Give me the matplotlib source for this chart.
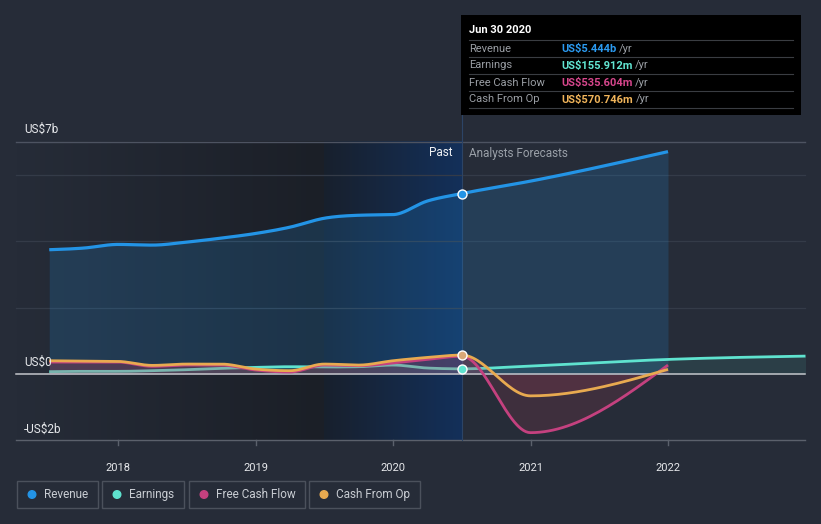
import numpy as np
import matplotlib
matplotlib.use('Agg')
import matplotlib.pyplot as plt
from matplotlib.patches import Rectangle, Circle
from matplotlib.colors import LinearSegmentedColormap

plt.rcParams['font.family'] = ['Roboto', 'DejaVu Sans']

# data, US$ billions
past_t = [2017.5, 2017.75, 2018.0, 2018.25, 2018.5, 2018.75, 2019.0,
          2019.25, 2019.5, 2019.75, 2020.0, 2020.25, 2020.5]
revenue_past = [3.75, 3.80, 3.91, 3.89, 3.98, 4.10, 4.24, 4.43, 4.70, 4.79, 4.81, 5.22, 5.444]
earnings_past = [0.07, 0.08, 0.08, 0.10, 0.13, 0.17, 0.20, 0.22, 0.21, 0.22, 0.27, 0.18, 0.156]
fcf_past = [0.36, 0.36, 0.36, 0.23, 0.27, 0.27, 0.12, 0.06, 0.27, 0.25, 0.33, 0.44, 0.536]
cfo_past = [0.40, 0.39, 0.38, 0.26, 0.30, 0.30, 0.15, 0.10, 0.30, 0.27, 0.40, 0.50, 0.571]

fc_t = [2021.0, 2022.0]
revenue_fc = [5.82, 6.71]
fcf_fc = [-1.77, 0.27]
cfo_fc = [-0.66, 0.14]
earnings_fc_t = [2021.0, 2022.0, 2023.0]
earnings_fc = [0.24, 0.44, 0.54]

years = [2018, 2019, 2020, 2021, 2022]

C_REV = '#2394e6'
C_EARN = '#5fe3cf'
C_FCF = '#c4417f'
C_CFO = '#e8aa50'
BG = '#262c38'


def monotone(x, y, n=30):
    # d3 curveMonotoneX style smoothing
    x = np.asarray(x, float)
    y = np.asarray(y, float)
    h = np.diff(x)
    s = np.diff(y) / h
    m = np.zeros(len(x))
    for k in range(1, len(x) - 1):
        p = (s[k - 1] * h[k] + s[k] * h[k - 1]) / (h[k - 1] + h[k])
        m[k] = (np.sign(s[k - 1]) + np.sign(s[k])) * min(abs(s[k - 1]), abs(s[k]), 0.5 * abs(p))
    m[0] = (3 * s[0] - m[1]) / 2 if len(x) > 2 else s[0]
    m[-1] = (3 * s[-1] - m[-2]) / 2 if len(x) > 2 else s[-1]
    xs, ys = [], []
    for k in range(len(x) - 1):
        t = np.linspace(0, 1, n, endpoint=False)
        h00 = 2 * t**3 - 3 * t**2 + 1
        h10 = t**3 - 2 * t**2 + t
        h01 = -2 * t**3 + 3 * t**2
        h11 = t**3 - t**2
        xs.append(x[k] + t * h[k])
        ys.append(h00 * y[k] + h10 * h[k] * m[k] + h01 * y[k + 1] + h11 * h[k] * m[k + 1])
    xs.append([x[-1]])
    ys.append([y[-1]])
    return np.concatenate(xs), np.concatenate(ys)


# pixel <-> data mapping
def X(px):
    return 2018 + (px - 118) / 137.5


def V(py):
    return (374 - py) / 33.14


fig = plt.figure(figsize=(8.21, 5.24), dpi=100, facecolor=BG)
ax = fig.add_axes([0, 0, 1, 1])
ax.set_facecolor(BG)
ax.set_xlim(X(0), X(821))
ax.set_ylim(V(524), V(0))
ax.axis('off')

top, bot = 7.0, -2.0

# background shading for past
g = np.linspace(0, 1, 256).reshape(1, -1)
cm1 = LinearSegmentedColormap.from_list('p1', [BG, '#1b1f27'])
ax.imshow(g, cmap=cm1, extent=[X(16), 2019.5, bot, top], aspect='auto', zorder=0)
cm2 = LinearSegmentedColormap.from_list('p2', ['#18202d', '#13305a'])
ax.imshow(g, cmap=cm2, extent=[2019.5, 2020.5, bot, top], aspect='auto', zorder=0)

# grid
for v in [2, 4, 6]:
    ax.plot([X(16), X(805)], [v, v], color='#343b48', lw=0.9, zorder=1)
ax.plot([X(16), X(805)], [7, 7], color='#4d5361', lw=1.0, zorder=1)
ax.plot([X(16), X(805)], [bot, bot], color='#5b616c', lw=1.0, zorder=1)
for yr in years:
    ax.plot([yr, yr], [bot, V(445)], color='#5b616c', lw=1.0, zorder=1)
ax.plot([2020.5, 2020.5], [bot, V(115)], color='#2c4466', lw=0.8, zorder=1)

rx, ry = monotone(past_t + fc_t, revenue_past + revenue_fc)
ex, ey = monotone(past_t + earnings_fc_t, earnings_past + earnings_fc)
fx, fy = monotone(past_t + fc_t, fcf_past + fcf_fc)
cx, cy = monotone(past_t + fc_t, cfo_past + cfo_fc)

ax.fill_between(rx, 0, ry, color=C_REV, alpha=0.18, lw=0, zorder=2)
ax.fill_between(ex, 0, ey, color=C_EARN, alpha=0.10, lw=0, zorder=2)
ax.plot(ex, ey, color=C_EARN, lw=2.0, zorder=2.5, solid_capstyle='butt')
ax.fill_between(fx, 0, fy, color='#c0405a', alpha=0.16, lw=0, zorder=3)
ax.fill_between(cx, 0, cy, color='#c0405a', alpha=0.14, lw=0, zorder=3)
ax.plot([X(16), X(805)], [0, 0], color='#c4c6cb', lw=1.1, zorder=3.5)

ax.plot(rx, ry, color=C_REV, lw=2.3, zorder=4, solid_capstyle='butt')
ax.plot(fx, fy, color=C_FCF, lw=2.0, zorder=4, solid_capstyle='butt')
ax.plot(cx, cy, color=C_CFO, lw=2.0, zorder=4.5, solid_capstyle='butt')

ax.scatter([2020.5], [revenue_past[-1]], s=42, color=C_REV, edgecolor='white', lw=1.0, zorder=6)
ax.scatter([2020.5], [earnings_past[-1]], s=42, color=C_EARN, edgecolor='white', lw=1.0, zorder=6)
ax.scatter([2020.5], [cfo_past[-1]], s=42, color='#d9a877', edgecolor='white', lw=1.0, zorder=6)

# pixel overlay for text and boxes
ov = fig.add_axes([0, 0, 1, 1], zorder=10)
ov.set_xlim(0, 821)
ov.set_ylim(524, 0)
ov.axis('off')
ov.patch.set_alpha(0)

ov.text(24, 129, 'US$7b', color='#e6e8eb', fontsize=8.5, va='center')
ov.text(24, 362, 'US$0', color='#e6e8eb', fontsize=8.5, va='center')
ov.text(24, 429, '-US$2b', color='#e6e8eb', fontsize=8.5, va='center')
ov.text(452, 153, 'Past', color='#f0f2f4', fontsize=8.5, va='center', ha='right')
ov.text(469, 153, 'Analysts Forecasts', color='#9aa0a8', fontsize=8.5, va='center')

for yr in years:
    px = 118 + (yr - 2018) * 137.5
    ov.text(px, 468, str(yr), color='#e6e8eb', fontsize=8, ha='center', va='center')

# tooltip
ov.add_patch(Rectangle((461, 15), 340, 100, facecolor='black', edgecolor='none', zorder=1))
ov.text(469, 30, 'Jun 30 2020', color='white', fontsize=8, fontweight='bold', va='center', zorder=2)
for ly in [40, 57, 74, 91, 108]:
    ov.plot([469, 793], [ly, ly], color='#3a3d42', lw=0.8, zorder=2)
rows = [('Revenue', 'US$5.444b', '#2b9af0'),
        ('Earnings', 'US$155.912m', '#62e6d3'),
        ('Free Cash Flow', 'US$535.604m', '#d6468c'),
        ('Cash From Op', 'US$570.746m', '#f0b45a')]
renderer = fig.canvas.get_renderer()
inv = ov.transData.inverted()
for i, (lab, val, col) in enumerate(rows):
    yy = 48.5 + 17 * i
    ov.text(469, yy, lab, color='#9a9ea4', fontsize=8, va='center', zorder=2)
    t = ov.text(561, yy, val, color=col, fontsize=8, fontweight='bold', va='center', zorder=2)
    bb = t.get_window_extent(renderer)
    xr = inv.transform((bb.x1, bb.y0))[0]
    ov.text(xr + 3, yy, '/yr', color='#9a9ea4', fontsize=8, va='center', zorder=2)

# legend
legend = [('Revenue', C_REV, 17, 98), ('Earnings', C_EARN, 102, 184),
          ('Free Cash Flow', C_FCF, 189, 305), ('Cash From Op', C_CFO, 309, 420)]
for lab, col, x0, x1 in legend:
    ov.add_patch(Rectangle((x0, 481), x1 - x0, 27, facecolor='none', edgecolor='#4b515c', lw=1.0))
    ov.add_patch(Circle((x0 + 15, 494.5), 3.8, color=col))
    ov.text(x0 + 27, 494.5, lab, color='#c9cdd3', fontsize=8.5, va='center')

fig.savefig('out.png', dpi=100, facecolor=BG)
